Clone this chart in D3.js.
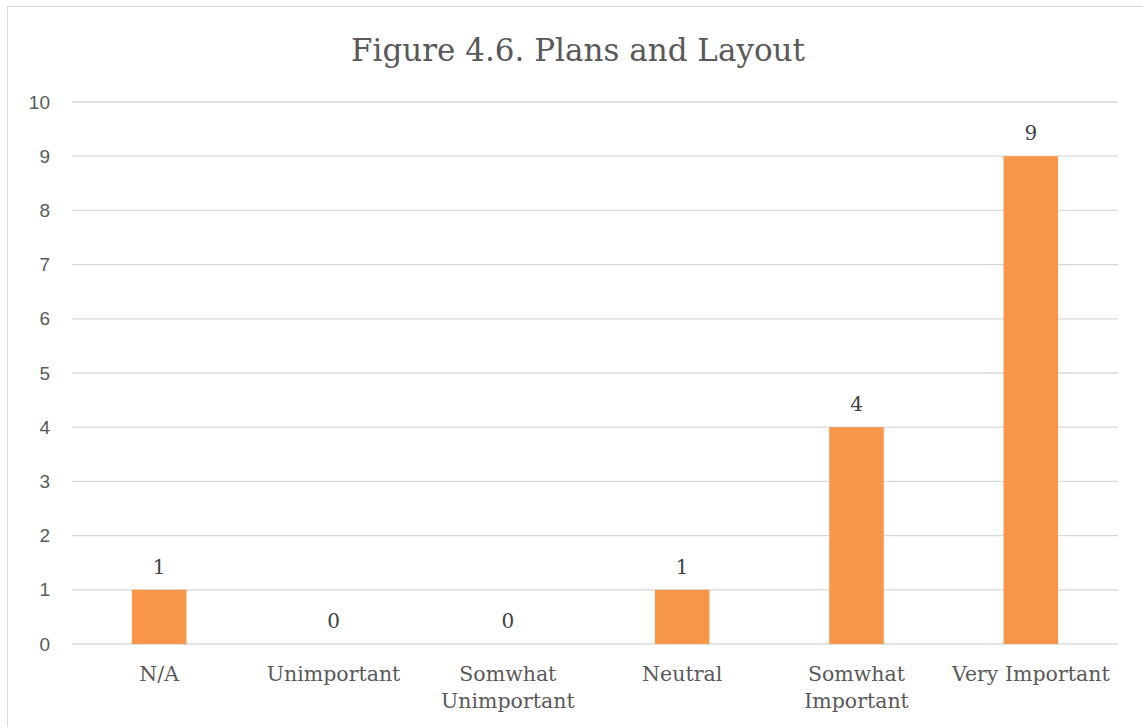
<!DOCTYPE html>
<html><head><meta charset="utf-8">
<script src="https://cdn.jsdelivr.net/npm/d3@7"></script>
<style>body{margin:0;background:#fff}svg{display:block}</style>
</head><body>
<svg id="c" width="1143" height="727"></svg>
<script>
const title = "Figure 4.6. Plans and Layout";
const categories = ["N/A","Unimportant","Somwhat Unimportant","Neutral","Somwhat Important","Very Important"];
const categoryLines = [["N/A"],["Unimportant"],["Somwhat","Unimportant"],["Neutral"],["Somwhat","Important"],["Very Important"]];
const values = [1,0,0,1,4,9];
const yTicks = [0,1,2,3,4,5,6,7,8,9,10];

const svg = d3.select("#c");
const serif = "'DejaVu Serif', serif";
const sans = "'Liberation Sans', 'Open Sans', sans-serif";

svg.append("rect").attr("x",7.5).attr("y",6.5).attr("width",1143).attr("height",730)
  .attr("fill","#fff").attr("stroke","#d9d9d9");

const x = d3.scaleBand().domain(categories).range([72,1118]).paddingInner(0.687).paddingOuter(0.3435);
const y = d3.scaleLinear().domain([0,10]).range([644,102]);

// grid
svg.append("g").selectAll("line").data(yTicks).join("line")
  .attr("x1",72).attr("x2",1118).attr("y1",d=>y(d)).attr("y2",d=>y(d))
  .attr("stroke","#d9d9d9").attr("stroke-width",1.3);

// y axis
const ya = svg.append("g").attr("transform","translate(72,0)")
  .call(d3.axisLeft(y).tickValues(yTicks).tickSize(0).tickPadding(22));
ya.select(".domain").remove();
ya.selectAll("text").attr("font-family",sans).attr("font-size",19).attr("fill","#595959");

// bars
svg.append("g").selectAll("rect").data(values).join("rect")
  .attr("x",(d,i)=>x(categories[i])).attr("width",x.bandwidth())
  .attr("y",d=>y(d)).attr("height",d=>y(0)-y(d)).attr("fill","#F79646");

// data labels
svg.append("g").selectAll("text").data(values).join("text")
  .attr("x",(d,i)=>x(categories[i])+x.bandwidth()/2).attr("y",d=>y(d)-16)
  .attr("text-anchor","middle").attr("font-family",serif).attr("font-size",20)
  .attr("fill","#404040").text(d=>d);

// category labels
const cl = svg.append("g").selectAll("text").data(categoryLines).join("text")
  .attr("text-anchor","middle").attr("font-family",serif).attr("font-size",20.5).attr("fill","#595959")
  .attr("transform",(d,i)=>`translate(${x(categories[i])+x.bandwidth()/2},681)`);
cl.selectAll("tspan").data(d=>d).join("tspan").attr("x",0).attr("dy",(d,j)=>j?27:0).text(d=>d);

// title
svg.append("text").attr("x",578).attr("y",61).attr("text-anchor","middle")
  .attr("font-family",serif).attr("font-size",31).attr("fill","#595959").text(title);
</script>
</body></html>
